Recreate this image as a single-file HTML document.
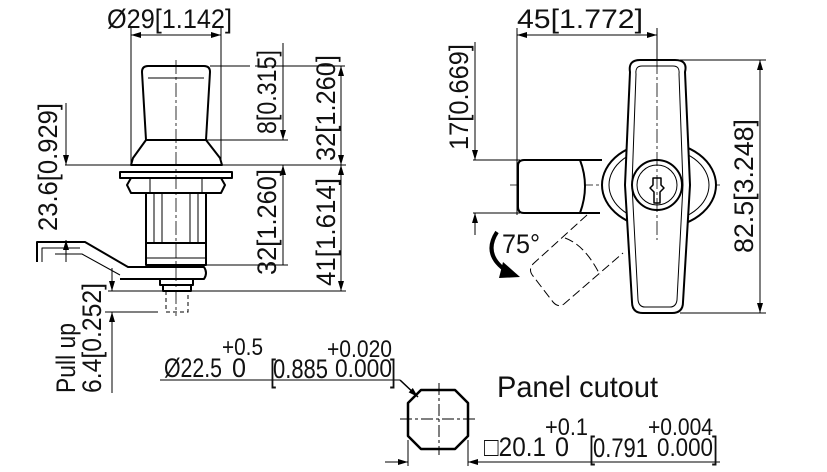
<!DOCTYPE html>
<html><head><meta charset="utf-8"><style>
html,body{margin:0;padding:0;background:#fff;}
svg{display:block;}
text{font-family:"Liberation Sans",sans-serif;fill:#111;}
</style></head><body>
<svg width="827" height="472" viewBox="0 0 827 472" xmlns="http://www.w3.org/2000/svg">
<defs>
<marker id="a" viewBox="0 0 10 6" refX="10" refY="3" markerWidth="10" markerHeight="6" orient="auto-start-reverse" markerUnits="userSpaceOnUse"><path d="M0,0L10,3L0,6z" fill="#000"/></marker>
</defs>
<g stroke="#000" fill="none" stroke-width="1">
<line x1="131" y1="28" x2="131" y2="165"/><line x1="221" y1="28" x2="221" y2="165"/>
<line x1="131" y1="35" x2="221" y2="35" marker-start="url(#a)" marker-end="url(#a)"/>
<line x1="65" y1="165" x2="346" y2="165"/>
<line x1="66" y1="103" x2="66" y2="165" marker-end="url(#a)"/>
<line x1="66" y1="262" x2="66" y2="240" marker-end="url(#a)"/>
<line x1="210" y1="66" x2="250" y2="66"/><line x1="255" y1="66" x2="345" y2="66"/>
<line x1="205" y1="140" x2="288" y2="140"/>
<line x1="283" y1="43" x2="283" y2="140" marker-end="url(#a)"/>
<line x1="283" y1="265" x2="283" y2="165" marker-end="url(#a)"/>
<line x1="205" y1="265" x2="288" y2="265"/>
<line x1="341" y1="66" x2="341" y2="165" marker-start="url(#a)" marker-end="url(#a)"/>
<line x1="341" y1="165" x2="341" y2="291" marker-start="url(#a)" marker-end="url(#a)"/>
<line x1="108" y1="291" x2="346" y2="291"/>
<line x1="105" y1="312" x2="158" y2="312"/>
<line x1="112" y1="268" x2="112" y2="291" marker-end="url(#a)"/>
<line x1="112" y1="393" x2="112" y2="312" marker-end="url(#a)"/>
<line x1="176" y1="60" x2="176" y2="316" stroke-dasharray="14,3,3,3" stroke-width="0.8"/>
</g>
<g stroke="#000" fill="none" stroke-width="2" stroke-linejoin="round">
<path d="M146,140 L142,72 Q142,66 148,66 L204,66 Q210,66 210,72 L206,140"/>
<path d="M148,78 L204,78" stroke-width="1"/>
<path d="M146,140 L206,140 L220,158 L222,165 L131,165 L133,158 Z"/>
<rect x="120" y="172" width="112" height="6"/>
<path d="M131,178 L221,178 L225,185 L221,193 L131,193 L127,185 Z"/>
<line x1="150" y1="178" x2="150" y2="193" stroke-width="1"/><line x1="202" y1="178" x2="202" y2="193" stroke-width="1"/>
<rect x="146" y="193" width="60" height="72"/>
<line x1="154" y1="193" x2="154" y2="243" stroke-width="1"/><line x1="162" y1="193" x2="162" y2="243" stroke-width="1"/>
<line x1="190" y1="193" x2="190" y2="243" stroke-width="1"/><line x1="198" y1="193" x2="198" y2="243" stroke-width="1"/>
<line x1="146" y1="243" x2="206" y2="243"/>
<line x1="146" y1="258" x2="206" y2="258" stroke-width="1"/>
<path d="M37,262 L37,242 L85,242 L128,267 L204,267 Q208,273 204,279 L120,279"/>
<path d="M42,262 L42,248 L80,248" stroke-width="1"/>
<path d="M55,254 L82,254 L120,275" stroke-width="1"/>
<path d="M160,279 L160,285 L193,285 L193,279"/>
<rect x="163" y="285" width="28" height="6"/>
</g>
<path d="M166,291 L166,312 L188,312 L188,291" stroke="#000" fill="none" stroke-dasharray="4,3"/>
<g stroke="#000" fill="none" stroke-width="1">
<line x1="517" y1="28" x2="517" y2="215"/>
<line x1="657" y1="28" x2="657" y2="160"/>
<line x1="517" y1="35" x2="657" y2="35" marker-start="url(#a)" marker-end="url(#a)"/>
<line x1="473" y1="160" x2="520" y2="160"/><line x1="473" y1="213" x2="520" y2="213"/>
<line x1="475" y1="42" x2="475" y2="160" marker-end="url(#a)"/>
<line x1="475" y1="235" x2="475" y2="213" marker-end="url(#a)"/>
<line x1="680" y1="60" x2="766" y2="60"/><line x1="680" y1="313" x2="766" y2="313"/>
<line x1="760" y1="60" x2="760" y2="313" marker-start="url(#a)" marker-end="url(#a)"/>
<line x1="510" y1="185" x2="720" y2="185" stroke-dasharray="14,3,3,3" stroke-width="0.8"/>
</g>
<g stroke="#000" fill="none" stroke-width="2" stroke-linejoin="round">
<ellipse cx="659" cy="185" rx="57" ry="43" fill="#fff"/>
<ellipse cx="659" cy="185" rx="50" ry="37" stroke-width="1"/>
<path d="M580,160 L524,160 Q518,160 518,166 L518,207 Q518,213 524,213 L580,213 Q590,186 580,160 Z" fill="#fff"/>
<line x1="580" y1="160" x2="602" y2="160"/><line x1="580" y1="213" x2="600" y2="213"/>
<path d="M640,60 L675,60 Q688,60 685,72 L690,185 L683,302 Q683,313 672,313 L643,313 Q632,313 632,302 L625,185 L630,72 Q628,60 640,60 Z" fill="#fff"/>
<path d="M642,66 L673,66 Q680,66 679,74 L683,185 L677,300 Q676,307 670,307 L645,307 Q639,307 638,300 L632,185 L636,74 Q635,66 642,66 Z" stroke-width="1"/>
<circle cx="657" cy="185" r="25" fill="#fff"/>
<circle cx="657" cy="185" r="20" stroke-width="1"/>
<path d="M653,178 L661,178 L661,185 L664,188 L660,192 L660,203 L654,203 L654,192 L650,188 L653,185 Z" stroke-width="1.5"/>
</g>
<line x1="657" y1="60" x2="657" y2="240" stroke="#000" stroke-dasharray="14,3,3,3" stroke-width="0.8"/>
<path d="M587,215 L533,264 Q528,270 533,276 L553,302 Q558,308 564,304 L623,253" stroke="#000" fill="none" stroke-dasharray="9,4"/>
<path d="M565,238 Q585,245 600,275" stroke="#000" fill="none" stroke-dasharray="9,4"/>
<path d="M497,232 Q482,255 508,272" stroke="#000" fill="none" stroke-width="4"/>
<path d="M503,262 L520,277 L499,278 Z" fill="#000"/>
<g stroke="#000" fill="none" stroke-width="1">
<line x1="160" y1="380" x2="400" y2="380"/>
<line x1="400" y1="380" x2="418" y2="397" marker-end="url(#a)" stroke-width="1.5"/>
<line x1="408" y1="440" x2="408" y2="466"/><line x1="468" y1="440" x2="468" y2="466"/>
<line x1="385" y1="462" x2="408" y2="462" marker-end="url(#a)"/>
<line x1="490" y1="462" x2="468" y2="462" marker-end="url(#a)"/>
<line x1="468" y1="462" x2="720" y2="462"/>
<line x1="400" y1="419" x2="476" y2="419" stroke-dasharray="12,3,3,3"/>
<line x1="439" y1="383" x2="439" y2="455" stroke-dasharray="12,3,3,3"/>
</g>
<path d="M421,390 L455,390 L468,403 L468,436 L455,449 L421,449 L408,436 L408,403 Z" stroke="#000" fill="none" stroke-width="2.5" stroke-linejoin="round"/>
<g font-size="27">
<text x="107" y="28" textLength="125" lengthAdjust="spacingAndGlyphs">Ø29[1.142]</text>
<text x="517" y="28" textLength="126" lengthAdjust="spacingAndGlyphs">45[1.772]</text>
<text transform="translate(57,231) rotate(-90)" textLength="128" lengthAdjust="spacingAndGlyphs">23.6[0.929]</text>
<text transform="translate(276,134) rotate(-90)" textLength="84" lengthAdjust="spacingAndGlyphs">8[0.315]</text>
<text transform="translate(276,275) rotate(-90)" textLength="106" lengthAdjust="spacingAndGlyphs">32[1.260]</text>
<text transform="translate(335,161) rotate(-90)" textLength="106" lengthAdjust="spacingAndGlyphs">32[1.260]</text>
<text transform="translate(335,286) rotate(-90)" textLength="108" lengthAdjust="spacingAndGlyphs">41[1.614]</text>
<text transform="translate(75,393) rotate(-90)" textLength="70" lengthAdjust="spacingAndGlyphs">Pull up</text>
<text transform="translate(101,393) rotate(-90)" textLength="110" lengthAdjust="spacingAndGlyphs">6.4[0.252]</text>
<text transform="translate(468,150) rotate(-90)" textLength="106" lengthAdjust="spacingAndGlyphs">17[0.669]</text>
<text transform="translate(753,253) rotate(-90)" textLength="134" lengthAdjust="spacingAndGlyphs">82.5[3.248]</text>
<text x="502" y="253" textLength="38" lengthAdjust="spacingAndGlyphs">75°</text>
<text x="164" y="377" textLength="58" lengthAdjust="spacingAndGlyphs">Ø22.5</text>
<text x="222" y="355" font-size="24" textLength="41" lengthAdjust="spacingAndGlyphs">+0.5</text>
<text x="232" y="377" textLength="14" lengthAdjust="spacingAndGlyphs">0</text>
<text x="270" y="382" font-size="32" textLength="6" lengthAdjust="spacingAndGlyphs">[</text>
<text x="273" y="378" textLength="55" lengthAdjust="spacingAndGlyphs">0.885</text>
<text x="327" y="357" font-size="24" textLength="65" lengthAdjust="spacingAndGlyphs">+0.020</text>
<text x="335" y="377" font-size="25" textLength="57" lengthAdjust="spacingAndGlyphs">0.000</text>
<text x="390" y="382" font-size="32" textLength="6" lengthAdjust="spacingAndGlyphs">]</text>
<text x="497" y="397" font-size="30" textLength="161" lengthAdjust="spacingAndGlyphs">Panel cutout</text>
<text x="484" y="456" textLength="62" lengthAdjust="spacingAndGlyphs">□20.1</text>
<text x="545" y="435" font-size="24" textLength="43" lengthAdjust="spacingAndGlyphs">+0.1</text>
<text x="555" y="456" textLength="14" lengthAdjust="spacingAndGlyphs">0</text>
<text x="589" y="459" font-size="32" textLength="6" lengthAdjust="spacingAndGlyphs">[</text>
<text x="593" y="457" textLength="55" lengthAdjust="spacingAndGlyphs">0.791</text>
<text x="648" y="435" font-size="24" textLength="65" lengthAdjust="spacingAndGlyphs">+0.004</text>
<text x="657" y="456" font-size="25" textLength="56" lengthAdjust="spacingAndGlyphs">0.000</text>
<text x="712" y="459" font-size="32" textLength="6" lengthAdjust="spacingAndGlyphs">]</text>
</g>
</svg>
</body></html>
